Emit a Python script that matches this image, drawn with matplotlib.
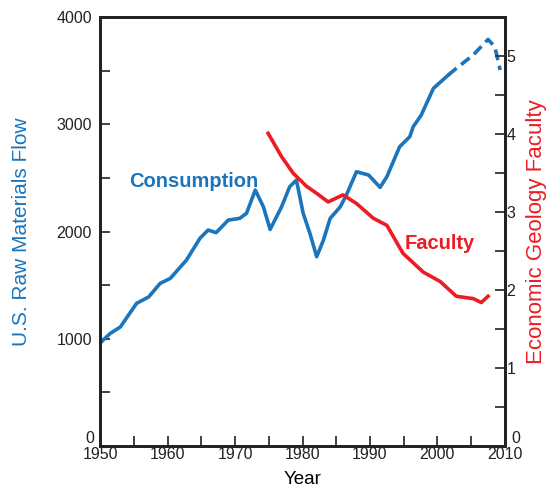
import matplotlib
matplotlib.use("Agg")
import matplotlib.pyplot as plt
from matplotlib.ticker import MultipleLocator, FuncFormatter

plt.rcParams['font.family'] = ['Liberation Sans', 'DejaVu Sans']

# Raw materials consumption (left axis)
cons_years = [1950, 1951.5, 1953, 1955.4, 1957.2, 1958.9, 1960.4, 1962.8, 1964.8, 1966,
              1967.2, 1969, 1970.7, 1971.7, 1973.0, 1974.2, 1975.2, 1976.9, 1978.1, 1979.1,
              1980.1, 1981.1, 1982.1, 1983.1, 1984.1, 1985.6, 1986.5, 1988.0, 1989.8, 1991.5,
              1992.5, 1994.4, 1995.9, 1996.4, 1997.6, 1999.4, 2001.6]
cons_vals = [960, 1050, 1110, 1330, 1390, 1517, 1563, 1734, 1937, 2014,
             1990, 2107, 2123, 2170, 2387, 2231, 2020, 2231, 2418, 2480,
             2170, 1983, 1765, 1920, 2123, 2231, 2340, 2558, 2527, 2412,
             2511, 2791, 2884, 2977, 3086, 3335, 3459]
# projected part (dashed)
proj_years = [2001.6, 2002.8, 2005.3, 2007.5, 2008.5, 2009.3]
proj_vals = [3459, 3522, 3646, 3792, 3723, 3506]

# Economic geology faculty (right axis)
fac_years = [1974.9, 1976.9, 1978.6, 1980.6, 1982.1, 1983.8, 1986.0, 1988.0, 1990.5,
             1992.5, 1994.9, 1997.9, 2000.4, 2002.8, 2005.3, 2006.5, 2007.5]
fac_vals = [4.01, 3.71, 3.50, 3.33, 3.24, 3.13, 3.22, 3.11, 2.92,
            2.83, 2.47, 2.23, 2.11, 1.92, 1.89, 1.84, 1.92]

blue = "#1b75bc"
red = "#ed1c24"
tick_col = "#222222"

fig = plt.figure(figsize=(5.5, 4.88), dpi=100)
ax = fig.add_axes([0.182, 0.086, 0.736, 0.879])
ax2 = ax.twinx()

ax.plot(cons_years, cons_vals, color=blue, lw=2.6, solid_joinstyle="round")
ax.plot(proj_years, proj_vals, color=blue, lw=2.6, ls=(0, (3, 1.6)))
ax2.plot(fac_years, fac_vals, color=red, lw=2.6, solid_joinstyle="round")

ax.set_xlim(1950, 2010)
ax.set_ylim(0, 4000)
ax2.set_ylim(0, 5.5)

ax.xaxis.set_major_locator(MultipleLocator(10))
ax.xaxis.set_minor_locator(MultipleLocator(5))
ax.yaxis.set_major_locator(MultipleLocator(1000))
ax.yaxis.set_minor_locator(MultipleLocator(500))
ax2.yaxis.set_major_locator(MultipleLocator(1))
ax2.yaxis.set_minor_locator(MultipleLocator(0.5))

# zero labels are drawn separately, raised a little off the bottom spine
nozero = FuncFormatter(lambda v, p: "" if v == 0 else "%g" % v)
ax.yaxis.set_major_formatter(nozero)
ax2.yaxis.set_major_formatter(nozero)

for a in (ax, ax2):
    a.tick_params(which="both", direction="in", width=1.3, color="#333333",
                  labelsize=11.5, labelcolor=tick_col, length=7)
    for s in a.spines.values():
        s.set_linewidth(2)
        s.set_color(tick_col)
ax.tick_params(axis="x", pad=1)
ax.tick_params(axis="y", pad=6)
ax2.tick_params(axis="y", pad=1)

ax.text(-0.015, 0.003, "0", transform=ax.get_yaxis_transform(), ha="right", va="bottom",
        fontsize=11.5, color=tick_col)
ax2.text(1.015, 0.003, "0", transform=ax2.get_yaxis_transform(), ha="left", va="bottom",
         fontsize=11.5, color=tick_col)

ax.set_xlabel("Year", fontsize=13.5, labelpad=6)
ax.set_ylabel("U.S. Raw Materials Flow", fontsize=15, color=blue, labelpad=18)
ax2.set_ylabel("Economic Geology Faculty", fontsize=16, color=red, labelpad=8)

ax.text(1954.3, 2470, "Consumption", color=blue, fontsize=14.5, fontweight="bold",
        va="center")
ax2.text(1995.2, 2.6, "Faculty", color=red, fontsize=14.5, fontweight="bold",
         va="center")

fig.savefig("out.png", dpi=100)
